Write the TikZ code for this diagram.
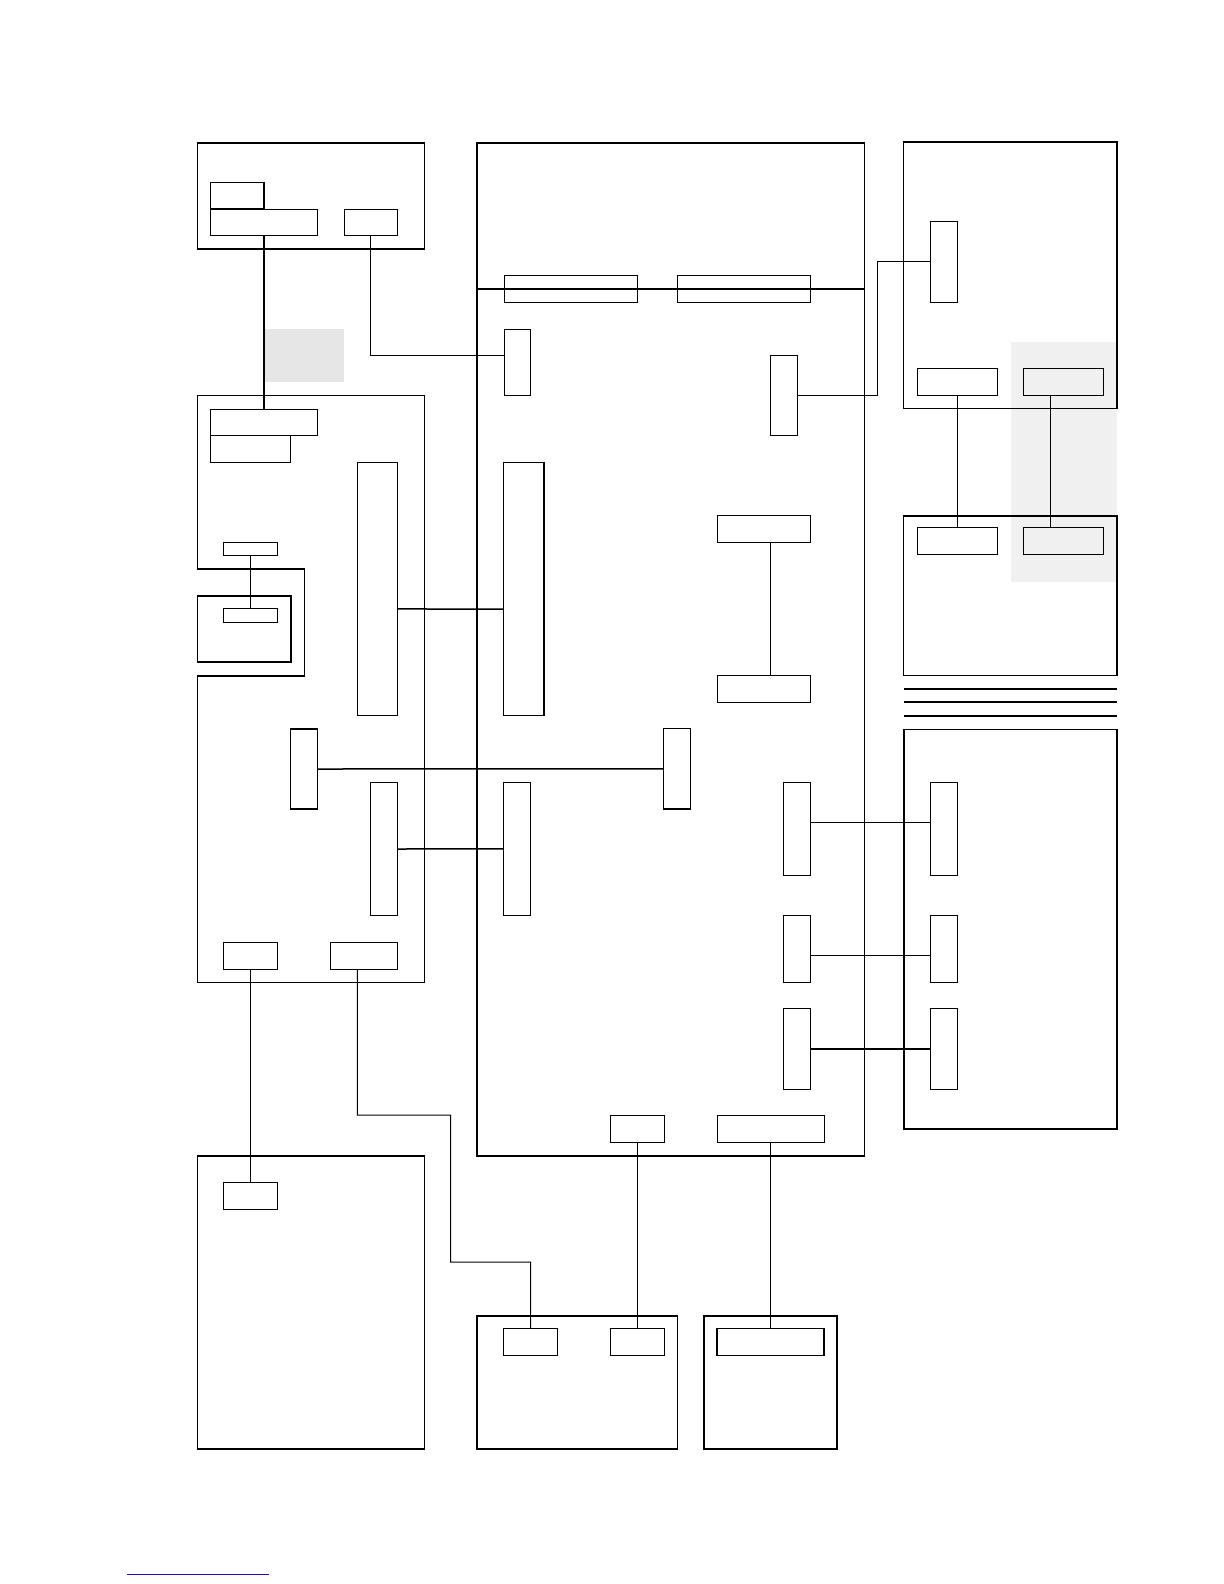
\documentclass[tikz,border=0pt]{standalone}
\usetikzlibrary{fit}
\definecolor{grayA}{HTML}{E6E6E6}
\definecolor{grayB}{HTML}{F0F0F0}
\definecolor{linkblue}{HTML}{1A1A80}
\begin{document}
\begin{tikzpicture}[x=0.5bp,y=-0.5bp,
  ob/.style={draw=black,line width=0.8bp,inner sep=0pt,fit={#1}},
  ib/.style={draw=black,line width=0.5bp,inner sep=0pt,fit={#1}},
  mb/.style={draw=black,line width=0.7bp,inner sep=0pt,fit={#1}},
  thinw/.style={draw=black,line width=0.5bp},
  thickw/.style={draw=black,line width=0.75bp},
  outline/.style={draw=black,line width=0.8bp}]
\useasboundingbox (0,0) rectangle (1224,1584);
% grey areas
\fill[grayA] (264.3,329) rectangle (344,381.7);
\fill[grayB] (1011,341.6) rectangle (1116.7,581.6);
% outer boxes
\node[ob={(197.3,142.7)(424.3,248.7)}] (A) {};
\node[ob={(476.7,142.7)(864.3,289)}] (B) {};
\node[ob={(476.7,289)(864.3,1155.7)}] (C) {};
\node[ob={(903.3,142.2)(1116.7,408.6)}] (D) {};
\node[ob={(903.3,515.8)(1116.7,675.3)}] (E) {};
\node[ob={(904,729.3)(1116.7,1128.7)}] (F) {};
\draw[outline] (197.3,395.3) -- (424.3,395.3) -- (424.3,982.3) -- (197.3,982.3) -- (197.3,675.7) -- (304.3,675.7) -- (304.3,569) -- (197.3,569) -- cycle;
\node[ob={(197.3,595.7)(291,662)}] (Gin) {};
\node[ob={(197.3,1156)(424.3,1448.7)}] (H) {};
\node[ob={(476.7,1316)(677.3,1448.7)}] (I) {};
\node[ob={(704,1316)(837,1448.7)}] (J) {};
% three lines
\draw[outline] (904,689) -- (1117.3,689);
\draw[outline] (904,702) -- (1117.3,702);
\draw[outline] (904,715.7) -- (1117.3,715.7);
% inner boxes A
\node[mb={(210.7,182.3)(264,209)}] (a1) {};
\node[ib={(210.7,209)(317.7,235.7)}] (a2) {};
\node[ib={(344,209)(397.7,235.7)}] (a3) {};
% inner boxes B/C
\node[ib={(504,275.7)(637.3,302.3)}] (c1) {};
\node[ib={(677.3,275.7)(810.3,302.3)}] (c2) {};
\node[ib={(504,329)(530.7,395.7)}] (cl1) {};
\node[ib={(770.3,355.7)(797.3,435.7)}] (cr1) {};
\node[mb={(503.7,462.3)(544,715.3)}] (ctall) {};
\node[ib={(717.3,515.3)(810.3,542.3)}] (cp1) {};
\node[ib={(717.3,675.3)(810.3,702.3)}] (cp2) {};
\node[mb={(663.7,728.7)(690.3,809)}] (cv) {};
\node[ib={(503.7,782)(530.7,915.7)}] (cl2) {};
\node[ib={(783.7,782.3)(810.7,875.7)}] (cr2) {};
\node[ib={(783.7,915.3)(810.7,982)}] (cr3) {};
\node[ib={(783.7,1008.7)(810.7,1089)}] (cr4) {};
\node[ib={(610.3,1115.3)(664,1142.3)}] (cb1) {};
\node[ib={(717,1115.3)(824,1142.3)}] (cb2) {};
% inner boxes D, E, F
\node[ib={(930.7,221.8)(957.3,302)}] (d1) {};
\node[ib={(917.3,368.4)(997.3,395.2)}] (d2) {};
\node[ib={(1023.7,368.4)(1103.7,395.2)}] (d3) {};
\node[ib={(917.3,527.6)(997.3,554.4)}] (e1) {};
\node[ib={(1023.7,527.6)(1103.7,554.4)}] (e2) {};
\node[ib={(930.3,782.3)(957.3,875.7)}] (f1) {};
\node[ib={(930.3,915.3)(957.3,982)}] (f2) {};
\node[ib={(930.3,1008.7)(957.3,1089)}] (f3) {};
% inner boxes G
\node[ib={(210.7,409)(317.7,435.3)}] (g1) {};
\node[ib={(210.7,435.3)(290.7,462)}] (g2) {};
\node[ib={(357.3,462)(397.7,715.3)}] (gtall) {};
\node[ib={(223.7,542.3)(277.3,555.3)}] (gs1) {};
\node[ib={(223.7,608.7)(277.3,622.3)}] (gs2) {};
\node[mb={(290.7,729)(317.3,809)}] (gv) {};
\node[ib={(370.7,782.3)(397.7,915.7)}] (gm) {};
\node[ib={(223.7,942.3)(277.3,969)}] (gb1) {};
\node[ib={(330.7,942.3)(397.7,969)}] (gb2) {};
% inner boxes H, I, J
\node[ib={(223.7,1182)(277.3,1209)}] (h1) {};
\node[ib={(503.7,1328.3)(557.3,1355.3)}] (i1) {};
\node[ib={(610.3,1328.3)(664,1355.3)}] (i2) {};
\node[mb={(717,1328.3)(824,1355.3)}] (j1) {};
% bend coordinates
\coordinate (k1) at (877.3,395.7);
\coordinate (k2) at (357.3,1115);
\coordinate (k3) at (450.7,1115);
\coordinate (k4) at (450.7,1262);
\coordinate (k5) at (530.5,1262);
% connectors
\draw[thickw] (a2.south) -- (g1.north);
\draw[thinw] (a3.south) |- ([yshift=3.3bp]cl1.west);
\draw[thinw] (cr1.east) -- (k1) |- (d1.west);
\draw[thinw] (d2.south) -- (e1.north);
\draw[thinw] ([xshift=-6.5bp]d3.south) -- ([xshift=-6.5bp]e2.north);
\draw[thickw] ([yshift=-10.15bp]gtall.east) -- ([yshift=-10.15bp]ctall.west);
\draw[thickw] (gs1.south) -- (gs2.north);
\draw[thickw] (gv.east) -- (cv.west);
\draw[thickw] (gm.east) -- (cl2.west);
\draw[thinw] ([xshift=3.25bp]cp1.south) -- ([xshift=3.25bp]cp2.north);
\draw[thinw] ([yshift=3.35bp]cr2.east) -- ([yshift=3.35bp]f1.west);
\draw[thinw] ([yshift=-3.3bp]cr3.east) -- ([yshift=-3.3bp]f2.west);
\draw[thickw] (cr4.east) -- (f3.west);
\draw[thickw] (gb1.south) -- (h1.north);
\draw[thinw] ([xshift=-3.45bp]gb2.south) -- (k2) -- (k3) -- (k4) -- (k5) -- (i1.north);
\draw[thinw] (cb1.south) -- (i2.north);
\draw[thinw] (cb2.south) -- (j1.north);
% link underline
\draw[linkblue,line width=0.6bp] (127,1574.7) -- (269,1574.7);
\end{tikzpicture}
\end{document}
